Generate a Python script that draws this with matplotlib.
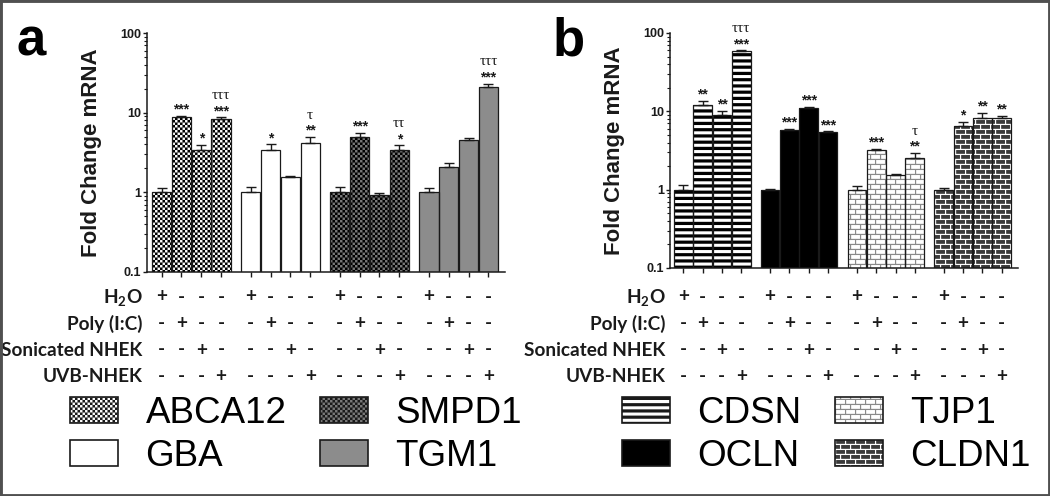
import numpy as np
import matplotlib
matplotlib.use('Agg')
import matplotlib.pyplot as plt
import matplotlib.hatch as mhatch
from matplotlib.path import Path
from matplotlib.patches import Patch, Rectangle
from matplotlib.transforms import blended_transform_factory

## ---------------- datos ----------------
genes_a = ['ABCA12', 'GBA', 'SMPD1', 'TGM1']
genes_b = ['CDSN', 'OCLN', 'TJP1', 'CLDN1']

treatments = ['H$_2$O', 'Poly (I:C)', 'Sonicated NHEK', 'UVB-NHEK']

## panel a: fold change (media) y error (+SEM)
abca12     = [1.0, 8.8, 3.4, 8.4]
abca12_err = [0.14, 0.4, 0.55, 0.4]
gba        = [1.0, 3.4, 1.55, 4.2]
gba_err    = [0.15, 0.6, 0.07, 0.75]
smpd1      = [1.0, 4.9, 0.92, 3.4]
smpd1_err  = [0.15, 0.7, 0.06, 0.5]
tgm1       = [1.0, 2.1, 4.55, 21.0]
tgm1_err   = [0.12, 0.22, 0.25, 2.2]

## panel b
cdsn       = [1.0, 11.9, 9.1, 59.0]
cdsn_err   = [0.16, 1.7, 1.1, 1.5]
ocln       = [1.0, 5.85, 10.9, 5.4]
ocln_err   = [0.02, 0.15, 0.6, 0.15]
tjp1       = [1.0, 3.2, 1.54, 2.55]
tjp1_err   = [0.12, 0.15, 0.05, 0.4]
cldn1      = [1.0, 6.5, 8.2, 8.15]
cldn1_err  = [0.05, 0.8, 1.4, 0.65]

## significancia (vs H2O) y tau (vs Poly I:C)
stars_a = [['', '***', '*', '***'], ['', '*', '', '**'],
           ['', '***', '', '*'],    ['', '', '', '***']]
taus_a  = [['', '', '', 'τττ'], ['', '', '', 'τ'],
           ['', '', '', 'ττ'],  ['', '', '', 'τττ']]
stars_b = [['', '**', '**', '***'], ['', '***', '***', '***'],
           ['', '***', '', '**'],   ['', '*', '**', '**']]
taus_b  = [['', '', '', 'τττ'], ['', '', '', ''],
           ['', '', '', 'τ'],   ['', '', '', '']]

yticks      = [0.1, 1, 10, 100]
ytick_names = ['0.1', '1', '10', '100']


## ---------------- patrones de relleno ----------------
## tramas propias: cuadros rellenos (ajedrez), franjas y ladrillos
def _rect(x0, y0, w, h):
    return [(x0, y0), (x0 + w, y0), (x0 + w, y0 + h), (x0, y0 + h), (x0, y0)]

class RectHatch(mhatch.HatchPatternBase):
    char = ''
    def __init__(self, hatch, density):
        n = hatch.count(self.char)
        self.rects = self.make(n) if n else []
        self.num_vertices = 5 * len(self.rects)
    def set_vertices_and_codes(self, vertices, codes):
        cc = [Path.MOVETO, Path.LINETO, Path.LINETO, Path.LINETO, Path.CLOSEPOLY]
        for k, r in enumerate(self.rects):
            vertices[5*k:5*k+5] = _rect(*r)
            codes[5*k:5*k+5] = cc

class Checker(RectHatch):
    char = '.'
    def make(self, n):
        m = 20 * n
        s = 1.0 / m
        return [(i*s, j*s, s, s) for i in range(m) for j in range(m) if (i + j) % 2 == 0]

class Stripes(RectHatch):
    char = '-'
    def make(self, n):
        m = 8 * n
        h = 1.0 / m
        return [(0, k*h, 1, h*0.5) for k in range(m)]

class Brick(RectHatch):
    char = 'o'
    def make(self, n):
        R = 10 * n
        C = R // 2
        t = 0.011
        out = [(0, r/R, 1, t) for r in range(R)]
        for r in range(R):
            for c in range(C):
                out.append(((c + 0.5*(r % 2))/C, r/R, t, 1.0/R))
        return out

mhatch._hatch_types[:] = [Stripes, Checker, Brick]
plt.rcParams['hatch.linewidth'] = 0.05

plt.rcParams['mathtext.fontset'] = 'custom'
plt.rcParams['mathtext.rm'] = 'Lato:bold'
plt.rcParams['mathtext.it'] = 'Lato:bold'
plt.rcParams['mathtext.bf'] = 'Lato:bold'

## estilo de cada gen: (fondo, color de trama, trama)
style = {
    'ABCA12': ('white',   'black',   '..'),
    'GBA':    ('white',   None,      ''),
    'SMPD1':  ('#7a7a7a', 'black',   '..'),
    'TGM1':   ('#8c8c8c', None,      ''),
    'CDSN':   ('white',   'black',   '--'),
    'OCLN':   ('black',   None,      ''),
    'TJP1':   ('white',   '#8a8a8a', 'oo'),
    'CLDN1':  ('#3a3a3a', 'white',   'oo'),
}

width  = 0.97
pitch  = 4.5
W, H   = 1050, 496
dark   = '#1a1a1a'
tabfs  = 13.7

def bar_group(ax, x, vals, errs, gene):
    face, hcol, hatch = style[gene]
    if hatch:
        ax.bar(x, vals, width, color=face, edgecolor=hcol, linewidth=0, hatch=hatch, zorder=2)
    else:
        ax.bar(x, vals, width, color=face, linewidth=0, zorder=2)
    ax.bar(x, vals, width, fill=False, edgecolor=dark, linewidth=0.9, zorder=3)
    ax.errorbar(x, vals, yerr=[np.zeros(len(vals)), errs], fmt='none', ecolor=dark,
                elinewidth=1.0, capsize=3.5, capthick=1.0, zorder=4)

def legend_handle(gene):
    face, hcol, hatch = style[gene]
    if hcol is not None and hcol != 'black':
        return (Patch(facecolor=face, edgecolor=hcol, linewidth=0, hatch=hatch),
                Patch(fill=False, edgecolor=dark, linewidth=1.2))
    return Patch(facecolor=face, edgecolor=dark, linewidth=1.2, hatch=hatch)

def panel(fig, rect, genes, data, errs, stars, taus, xlim, lab_x, letter, letter_x, leg_x):
    ax = fig.add_axes(rect)
    ax.set_yscale('log')
    centers = []
    for g, gene in enumerate(genes):
        x = g * pitch + np.arange(4)
        bar_group(ax, x, data[g], errs[g], gene)
        centers.extend(x)
        for j in range(4):
            top = data[g][j] + errs[g][j]
            if stars[g][j]:
                ax.annotate(stars[g][j], (x[j], top), xytext=(0, 1.5), textcoords='offset points',
                            ha='center', va='baseline', fontsize=10, fontweight='bold',
                            family='Liberation Sans', color=dark)
            if taus[g][j]:
                ax.annotate(taus[g][j], (x[j], top), xytext=(0, 13), textcoords='offset points',
                            ha='center', va='baseline', fontsize=11,
                            family='Liberation Serif', color=dark)
    ax.set_ylim(0.1, 100)
    ax.set_xlim(*xlim)
    ax.set_yticks(yticks)
    ax.set_yticklabels(ytick_names)
    ax.set_xticks(centers)
    ax.set_xticklabels([])
    ax.tick_params(axis='y', which='major', length=3, width=1, pad=1, color=dark,
                   labelsize=9, labelcolor=dark)
    ax.tick_params(axis='y', which='minor', length=2, width=0.8, color=dark)
    ax.tick_params(axis='x', length=3.5, width=1, color=dark)
    for lbl in ax.get_yticklabels():
        lbl.set_fontweight('bold')
        lbl.set_family('Liberation Sans')
    for s in ['top', 'right']:
        ax.spines[s].set_visible(False)
    for s in ['left', 'bottom']:
        ax.spines[s].set_color(dark)
        ax.spines[s].set_linewidth(1.1)
    ax.set_ylabel('Fold Change mRNA', fontsize=16, fontweight='bold',
                  family='Liberation Sans', color=dark)
    ax.yaxis.set_label_coords(lab_x, 0.5)

    ## tabla de tratamientos
    tr = blended_transform_factory(ax.transData, fig.transFigure)
    tl = blended_transform_factory(ax.transAxes, fig.transFigure)
    for r, name in enumerate(treatments):
        yf = 1 - (297 + 26.5 * r) / H
        ax.annotate(name, (0, yf), xycoords=tl, xytext=(-3, 0), textcoords='offset points',
                    ha='right', va='center', fontsize=tabfs, fontweight='bold',
                    family='Lato', color=dark, annotation_clip=False)
        for k, xc in enumerate(centers):
            sign = '+' if k % 4 == r else '-'
            ax.text(xc, yf, sign, transform=tr, ha='center', va='center', fontsize=tabfs,
                    fontweight='bold', family='Lato', color=dark, clip_on=False)

    fig.text(letter_x / W, 1 - 55 / H, letter, fontsize=38, fontweight='bold',
             family='Liberation Sans', va='baseline', ha='left', color='black')

    handles = [legend_handle(g) for g in genes]
    fig.legend(handles, genes, loc='upper left', bbox_to_anchor=(leg_x / W, 1 - 396 / H),
               ncol=2, frameon=False, borderpad=0, borderaxespad=0,
               handlelength=1.31, handleheight=0.71, handletextpad=0.74,
               columnspacing=0.9, labelspacing=0.22,
               prop={'family': 'Liberation Sans', 'size': 26.5})
    return ax


fig = plt.figure(figsize=(W / 100, H / 100), dpi=100)

data_a = [abca12, gba, smpd1, tgm1]
errs_a = [abca12_err, gba_err, smpd1_err, tgm1_err]
data_b = [cdsn, ocln, tjp1, cldn1]
errs_b = [cdsn_err, ocln_err, tjp1_err, cldn1_err]

panel(fig, [147 / W, 1 - 272 / H, 358 / W, 239 / H], genes_a, data_a, errs_a,
      stars_a, taus_a, (-0.74, 17.34), -0.125, 'a', 17, 70)
panel(fig, [670 / W, 1 - 268 / H, 348 / W, 235 / H], genes_b, data_b, errs_b,
      stars_b, taus_b, (-0.69, 17.35), -0.128, 'b', 553, 622)

## marco de la figura
fig.patches.append(Rectangle((0, 0), 1, 1, transform=fig.transFigure, fill=False,
                             edgecolor='#505050', linewidth=3.5, clip_on=False))

fig.savefig('out.png', dpi=100)
